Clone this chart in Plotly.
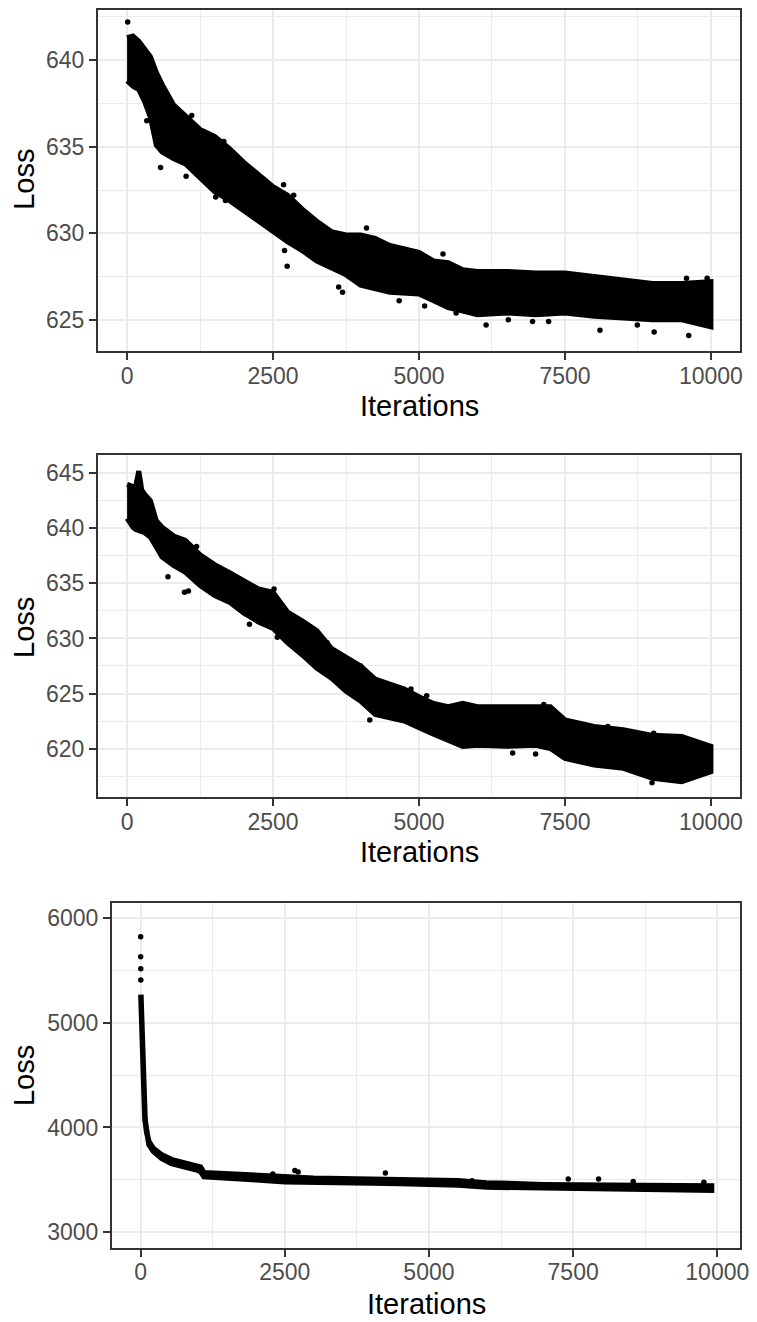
import plotly.graph_objects as go

# ---------------- data ----------------
# Panel 1: envelope of the dense point cloud + scattered points
p1_iter = [0, 100, 200, 300, 400, 500, 600, 800, 1000, 1250, 1500, 1750, 2000, 2250,
           2500, 2750, 3000, 3250, 3500, 3750, 4000, 4250, 4500, 5000, 5250, 5500,
           5750, 6000, 6500, 7000, 7500, 8000, 8500, 9000, 9500, 10000]
p1_upper = [641.3, 641.4, 641.1, 640.6, 640.2, 639.3, 638.6, 637.4, 636.8, 636.0, 635.6,
            634.9, 634.1, 633.4, 632.7, 632.2, 631.4, 630.7, 630.1, 629.9, 629.9, 629.7,
            629.3, 628.9, 628.4, 628.3, 627.9, 627.8, 627.8, 627.7, 627.7, 627.5, 627.3,
            627.1, 627.1, 627.2]
p1_lower = [638.8, 638.5, 638.3, 637.6, 636.7, 635.1, 634.7, 634.3, 634.0, 633.2, 632.4,
            631.9, 631.3, 630.7, 630.1, 629.5, 629.0, 628.4, 628.0, 627.6, 627.0, 626.8,
            626.6, 626.5, 626.1, 625.7, 625.5, 625.3, 625.4, 625.3, 625.4, 625.2, 625.1,
            625.0, 625.0, 624.6]
p1_pts_iter = [10, 337, 573, 1011, 1107, 1517, 1657, 1685, 2680, 2697, 2742, 2854, 3624,
               3691, 4101, 4660, 5096, 5411, 5636, 6150, 6530, 6945, 7220, 8100, 8740,
               9028, 9582, 9620, 9936]
p1_pts_loss = [642.2, 636.5, 633.8, 633.3, 636.8, 632.1, 635.3, 631.9, 632.8, 629.0, 628.1,
               632.2, 626.9, 626.6, 630.3, 626.1, 625.8, 628.8, 625.4, 624.7, 625.0, 624.9,
               624.9, 624.4, 624.7, 624.3, 627.4, 624.1, 627.4]

# Panel 2
p2_iter = [0, 100, 150, 175, 200, 225, 250, 300, 400, 500, 600, 800, 1000, 1250, 1500,
           1750, 2000, 2250, 2500, 2750, 3000, 3250, 3500, 3750, 4000, 4250, 4500, 4750,
           5000, 5250, 5500, 5750, 6000, 6500, 7000, 7250, 7500, 8000, 8500, 9000, 9500,
           10000]
p2_upper = [644.0, 643.8, 643.9, 645.0, 645.2, 644.4, 643.5, 643.1, 642.5, 640.7, 640.1,
            639.3, 638.9, 637.6, 636.7, 636.0, 635.2, 634.5, 634.2, 632.4, 631.6, 630.7,
            629.1, 628.3, 627.5, 626.3, 625.8, 625.4, 624.7, 624.1, 623.8, 624.1, 623.8,
            623.8, 623.9, 623.8, 622.6, 622.0, 621.7, 621.2, 621.1, 620.2]
p2_lower = [640.9, 640.1, 639.9, 639.8, 639.8, 639.7, 639.7, 639.6, 639.2, 638.4, 637.4,
            636.6, 636.0, 634.8, 633.9, 633.3, 632.3, 631.5, 630.9, 629.6, 628.5, 627.3,
            626.4, 625.2, 624.3, 623.1, 622.8, 622.5, 621.9, 621.3, 620.7, 620.2, 620.3,
            620.2, 620.3, 620.0, 619.1, 618.5, 618.2, 617.3, 617.0, 617.9]
p2_pts_iter = [700, 916, 983, 1050, 1190, 2096, 2517, 2573, 3427, 4000, 4157, 4862, 5132,
               6604, 6997, 7138, 8234, 8992, 9020]
p2_pts_loss = [635.6, 639.0, 634.2, 634.3, 638.35, 631.3, 634.5, 630.1, 629.6, 627.5, 622.6,
               625.4, 624.8, 619.6, 619.5, 624.0, 622.0, 616.9, 621.4]

# Panel 3
p3_iter = [5, 10, 20, 36, 60, 77, 105, 145, 220, 362, 533, 762, 990, 1040, 1100, 1500,
           2000, 2500, 3000, 3500, 4000, 4500, 5000, 5500, 6000, 6500, 7000, 7500, 8000,
           8500, 9000, 9500, 9900]
p3_upper = [5270, 5150, 4960, 4650, 4335, 4080, 3955, 3862, 3800, 3740, 3693, 3662, 3630,
            3620, 3566, 3553, 3540, 3520, 3515, 3510, 3508, 3505, 3502, 3490, 3470, 3458,
            3453, 3450, 3448, 3445, 3445, 3443, 3440]
p3_lower = [5270, 5150, 4960, 4650, 4325, 4066, 3937, 3838, 3774, 3706, 3657, 3624, 3592,
            3580, 3530, 3517, 3500, 3480, 3475, 3470, 3468, 3465, 3462, 3450, 3430, 3418,
            3413, 3410, 3408, 3405, 3405, 3403, 3400]
p3_pts_iter = [1, 2, 3, 4, 934, 2292, 2675, 2732, 4245, 5748, 7415, 7941, 8541, 9767]
p3_pts_loss = [5824, 5633, 5519, 5410, 3627, 3554, 3589, 3574, 3564, 3490, 3506, 3506, 3484,
               3475]

x_ticks = [0, 2500, 5000, 7500, 10000]
x_tick_text = ["0", "2500", "5000", "7500", "10000"]
y1_ticks = [625, 630, 635, 640]
y2_ticks = [620, 625, 630, 635, 640, 645]
y3_ticks = [3000, 4000, 5000, 6000]

# ---------------- figure ----------------
# The page body has an 8px margin, so the figure is made 8px smaller and all
# page-pixel positions are shifted by that offset.
OFF = 8
PW, PH = 757, 1322
W, H = PW - OFF, PH - OFF
FONT = "Liberation Sans, Arial, Helvetica, sans-serif"
fig = go.Figure()


def band(xs, lo, up, xa, ya, lw):
    fig.add_trace(go.Scatter(
        x=list(xs) + list(xs)[::-1], y=list(up) + list(lo)[::-1],
        mode="lines", fill="toself", fillcolor="black",
        line=dict(color="black", width=lw), xaxis=xa, yaxis=ya,
        hoverinfo="skip", showlegend=False))


def pts(xs, ys, xa, ya, size):
    fig.add_trace(go.Scatter(
        x=xs, y=ys, mode="markers", marker=dict(color="black", size=size),
        xaxis=xa, yaxis=ya, showlegend=False))


band(p1_iter, p1_lower, p1_upper, "x", "y", 5)
pts(p1_pts_iter, p1_pts_loss, "x", "y", 5.5)
band(p2_iter, p2_lower, p2_upper, "x2", "y2", 5)
pts(p2_pts_iter, p2_pts_loss, "x2", "y2", 5.5)
band(p3_iter, p3_lower, p3_upper, "x3", "y3", 5.5)
pts(p3_pts_iter, p3_pts_loss, "x3", "y3", 5.5)


def fx(px):
    return (px - OFF) / W


def fy(px):
    return 1 - (px - OFF) / H


common = dict(
    showline=True, linecolor="#333333", linewidth=2, mirror=True,
    ticks="outside", ticklen=7, tickwidth=2, tickcolor="#333333",
    tickfont=dict(family=FONT, size=23, color="#4D4D4D"),
    showgrid=True, gridcolor="#EBEBEB", gridwidth=2, zeroline=False,
)
xcommon = dict(common, ticklabelstandoff=-4)

x12 = [fx(99), fx(749)]
x3d = [fx(113.3), fx(749)]
xminor = dict(tickvals=[1250, 3750, 6250, 8750], showgrid=True,
              gridcolor="#EBEBEB", gridwidth=1, ticks="")

fig.update_layout(
    width=W, height=H, margin=dict(l=0, r=0, t=0, b=0),
    plot_bgcolor="white", paper_bgcolor="white", showlegend=False,
    xaxis=dict(domain=x12, anchor="y", range=[-500, 10500], tickvals=x_ticks,
               ticktext=x_tick_text, minor=xminor, **xcommon),
    yaxis=dict(domain=[fy(351), fy(10)], anchor="x", range=[623.2, 642.9],
               tickvals=y1_ticks,
               minor=dict(tickvals=[627.5, 632.5, 637.5, 642.5], showgrid=True,
                          gridcolor="#EBEBEB", gridwidth=1, ticks=""), **common),
    xaxis2=dict(domain=x12, anchor="y2", range=[-500, 10500], tickvals=x_ticks,
                ticktext=x_tick_text, minor=xminor, **xcommon),
    yaxis2=dict(domain=[fy(797), fy(455)], anchor="x2", range=[615.6, 646.66],
                tickvals=y2_ticks,
                minor=dict(tickvals=[617.5, 622.5, 627.5, 632.5, 637.5, 642.5],
                           showgrid=True, gridcolor="#EBEBEB", gridwidth=1, ticks=""),
                **common),
    xaxis3=dict(domain=x3d, anchor="y3", range=[-495, 10395], tickvals=x_ticks,
                ticktext=x_tick_text, minor=xminor, **xcommon),
    yaxis3=dict(domain=[fy(1247.7), fy(902.7)], anchor="x3", range=[2850, 6150],
                tickvals=y3_ticks,
                minor=dict(tickvals=[3500, 4500, 5500], showgrid=True,
                           gridcolor="#EBEBEB", gridwidth=1, ticks=""), **common),
)

title_font = dict(family=FONT, size=29, color="black")
ann = []
for cx, cy in [((99 + 749) / 2, 406), ((99 + 749) / 2, 852), ((113.3 + 749) / 2, 1304)]:
    ann.append(dict(text="Iterations", x=fx(cx), y=fy(cy), xref="paper", yref="paper",
                    showarrow=False, xanchor="center", yanchor="middle", font=title_font))
for cy in [(7 + 351) / 2, (455 + 799.3) / 2, (902.7 + 1247.7) / 2]:
    ann.append(dict(text="Loss", x=fx(24), y=fy(cy), xref="paper", yref="paper",
                    showarrow=False, xanchor="center", yanchor="middle", textangle=-90,
                    height=30, font=title_font))
fig.update_layout(annotations=ann)

fig.write_html("out.html")
